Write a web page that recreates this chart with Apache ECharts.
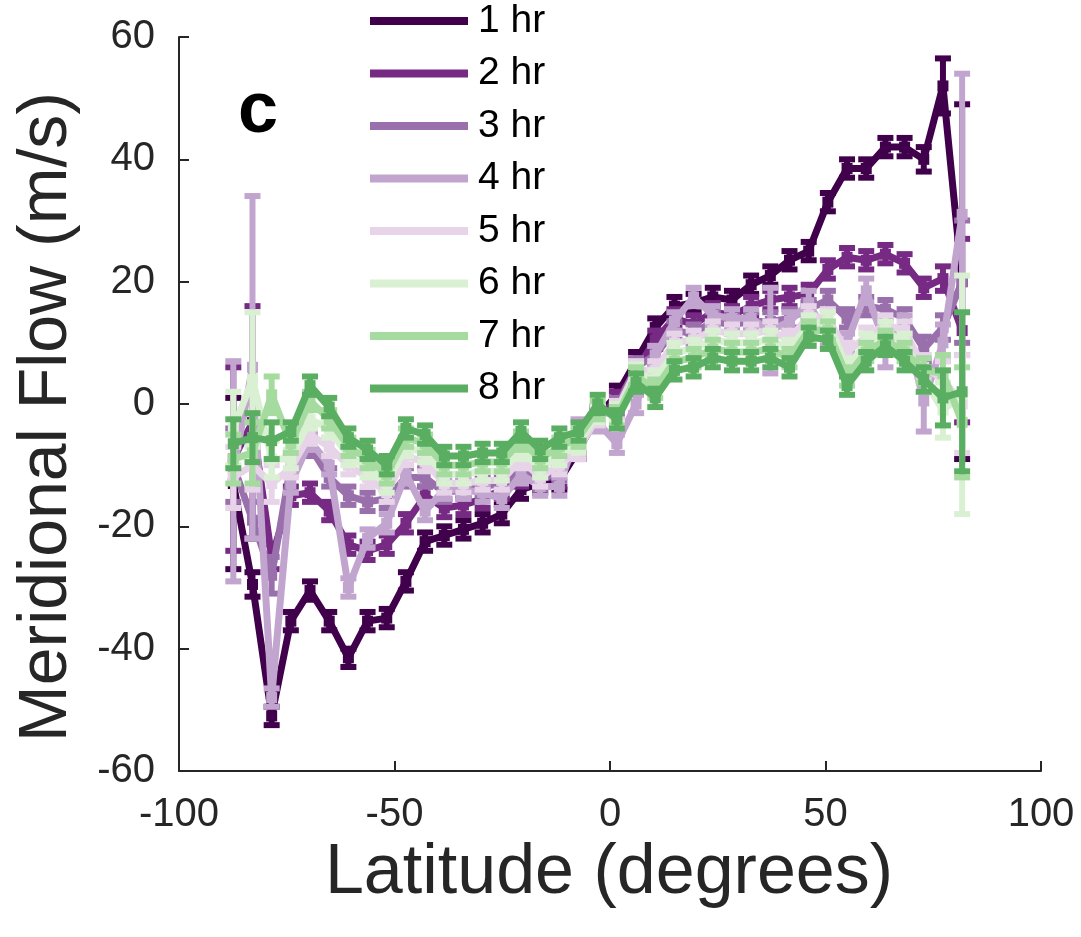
<!DOCTYPE html>
<html>
<head>
<meta charset="utf-8">
<script src="https://cdn.jsdelivr.net/npm/echarts@6/dist/echarts.min.js"></script>
<style>
  html, body { margin: 0; padding: 0; background: #fff; }
  #chart { width: 1081px; height: 937px; }
</style>
</head>
<body>
<div id="chart"></div>
<script>
// Latitude bin centres (degrees)
const lat = [
  -87.4, -82.95, -78.5, -74.05, -69.6, -65.15, -60.7, -56.25, -51.8, -47.35,
  -42.9, -38.45, -34, -29.55, -25.1, -20.65, -16.2, -11.75, -7.3, -2.85,
  1.6, 6.05, 10.5, 14.95, 19.4, 23.85, 28.3, 32.75, 37.2, 41.65,
  46.1, 50.55, 55, 59.45, 63.9, 68.35, 72.8, 77.25, 81.7
];

// Meridional flow (m/s) for each time lag, with error half-widths
const hr1 = [
  -13, -29.5, -51, -35.5, -30.5, -35.5, -41.5, -35.5, -35, -29,
  -22.5, -21.5, -20.5, -19.5, -18, -14, -13, -12.5, -7.5, -2,
  1.5, 7, 12.5, 16, 16.5, 17.5, 17, 19.5, 21, 23.5,
  25, 33, 38.5, 38.5, 42, 42, 40, 52, 20
];
const err1 = [
  14, 2, 1.5, 1.5, 1.5, 1.5, 1.5, 1.5, 1.5, 1.5,
  1.5, 1.5, 1.5, 1.5, 1.5, 1.5, 1.5, 1.5, 1.5, 1.5,
  1.5, 1.5, 1.5, 1.5, 1.5, 1.5, 1.5, 1.5, 1.5, 1.5,
  1.5, 1.5, 1.5, 1.5, 1.5, 1.5, 2, 4.5, 29
];
const hr2 = [
  -9, -3, -25, -15, -14.5, -17.5, -23, -24, -23, -19.5,
  -15, -17, -16.5, -15.5, -14, -12, -12, -12, -6.5, -2,
  0.5, 5.5, 10.5, 14, 13, 15, 14.5, 16, 17, 17.5,
  18, 22, 24, 23.5, 24.5, 23, 19, 20.5, 12
];
const err2 = [
  15, 19, 2, 1.5, 1.5, 1.5, 1.5, 1.5, 1.5, 1.5,
  1.5, 1.5, 1.5, 1.5, 1.5, 1.5, 1.5, 1.5, 1.5, 1.5,
  1.5, 1.5, 1.5, 1.5, 1.5, 1.5, 1.5, 1.5, 1.5, 1.5,
  1.5, 1.5, 1.5, 1.5, 1.5, 1.5, 1.5, 2, 15
];
const hr3 = [
  -10, -19, -28, -10, -7, -12, -15, -16, -15.5, -12,
  -12, -14.5, -14, -13.5, -13, -11, -12.5, -11, -7, -2,
  -0.5, 6, 8, 12, 11.5, 13.5, 13, 13.5, 13.5, 14,
  15.5, 17, 14, 16, 15.5, 14, 9, 12.5, 20
];
const err3 = [
  6, 3, 3, 1.5, 1.5, 1.5, 1.5, 1.5, 1.5, 1.5,
  1.5, 1.5, 1.5, 1.5, 1.5, 1.5, 1.5, 1.5, 1.5, 1.5,
  1.5, 1.5, 1.5, 1.5, 1.5, 1.5, 1.5, 1.5, 1.5, 1.5,
  1.5, 1.5, 1.5, 1.5, 1.5, 1.5, 2, 2, 10
];
const hr4 = [
  -11, 6, -48, -13, -6, -10, -30, -22, -19.5, -11.5,
  -17.5, -14, -14, -14.5, -15.5, -11.5, -13.5, -13.5, -4, -3,
  -6.5, 0, 8, 13.5, 17.5, 14.5, 14, 14, 12, 13.5,
  16.5, 11, 10, 18.5, 9.5, 13, 0.5, 10, 31
];
const err4 = [
  18, 28, 1.5, 1.5, 1.5, 1.5, 1.5, 1.5, 1.5, 1.5,
  1.5, 1.5, 1.5, 1.5, 1.5, 1.5, 1.5, 1.5, 1.5, 1.5,
  1.5, 1.5, 1.5, 1.5, 1.5, 1.5, 1.5, 1.5, 7, 1.5,
  2, 1.5, 1.5, 2, 3.5, 1.5, 5, 3, 23
];
const hr5 = [
  -12, -10, -13, -10.5, -5, -7, -10, -12, -14.5, -8.5,
  -9.5, -13, -13, -12.5, -12.5, -9, -12, -10, -7.5, -2,
  -1, 5.5, 5.5, 10, 10.5, 12, 11.5, 11.5, 12, 10.5,
  14.5, 14, 8.5, 11, 13, 12, 6, 4, 0
];
const err5 = [
  5, 4, 3, 1.5, 1.5, 1.5, 1.5, 1.5, 1.5, 1.5,
  1.5, 1.5, 1.5, 1.5, 1.5, 1.5, 1.5, 1.5, 1.5, 1.5,
  1.5, 1.5, 1.5, 1.5, 1.5, 1.5, 1.5, 1.5, 1.5, 1.5,
  1.5, 1.5, 1.5, 1.5, 1.5, 1.5, 2, 3, 8
];
const hr6 = [
  -4, 4, -9, -9, -2.5, -4, -8.5, -10.5, -13, -7,
  -8, -11.5, -11.5, -11, -11, -7.5, -10.5, -8.5, -6.5, -1.5,
  -1.5, 5, 4, 8.5, 9, 10.5, 10, 10, 10.5, 9,
  13, 13.5, 6, 10, 12, 10, 4, -1, 1.5
];
const err6 = [
  6, 11, 3, 1.5, 1.5, 1.5, 1.5, 1.5, 1.5, 1.5,
  1.5, 1.5, 1.5, 1.5, 1.5, 1.5, 1.5, 1.5, 1.5, 1.5,
  1.5, 1.5, 1.5, 1.5, 1.5, 1.5, 1.5, 1.5, 1.5, 1.5,
  1.5, 1.5, 1.5, 1.5, 1.5, 1.5, 2, 4.5, 19.5
];
const hr7 = [
  -9, -8, 1.5, -6.5, 0.5, -2.5, -7, -9, -11.5, -5.5,
  -6.5, -10, -10, -9.5, -9.5, -6, -9, -7, -5.5, -1,
  -2, 4.5, 2.5, 7, 7.5, 9, 8.5, 8.5, 9, 7.5,
  12, 12, 4.5, 8.5, 10.5, 8.5, 5.5, 5, -3
];
const err7 = [
  4, 5, 3, 1.5, 1.5, 1.5, 1.5, 1.5, 1.5, 1.5,
  1.5, 1.5, 1.5, 1.5, 1.5, 1.5, 1.5, 1.5, 1.5, 1.5,
  1.5, 1.5, 1.5, 1.5, 1.5, 1.5, 1.5, 1.5, 1.5, 1.5,
  1.5, 1.5, 1.5, 1.5, 1.5, 1.5, 2, 3, 9
];
const hr8 = [
  -6.5, -5.5, -6, -4.5, 3, -0.5, -5.5, -7.5, -10, -4,
  -5, -8.5, -8.5, -8, -8, -4.5, -7.5, -5.5, -4.5, 0,
  -2.5, 3.5, 1, 5.5, 6, 7.5, 7, 7, 7.5, 6,
  11, 10.5, 3, 7, 9.5, 7, 4, 1, 2
];
const err8 = [
  4, 4, 3, 1.5, 1.5, 1.5, 1.5, 1.5, 1.5, 1.5,
  1.5, 1.5, 1.5, 1.5, 1.5, 1.5, 1.5, 1.5, 1.5, 1.5,
  1.5, 1.5, 1.5, 1.5, 1.5, 1.5, 1.5, 1.5, 1.5, 1.5,
  1.5, 1.5, 1.5, 1.5, 1.5, 1.5, 2, 4.5, 13
];

const seriesNames = ['1 hr', '2 hr', '3 hr', '4 hr', '5 hr', '6 hr', '7 hr', '8 hr'];
const values = [hr1, hr2, hr3, hr4, hr5, hr6, hr7, hr8];
const errors = [err1, err2, err3, err4, err5, err6, err7, err8];
const colors = ['#40004b', '#762a83', '#9970ab', '#c2a5cf', '#e7d4e8', '#d9f0d3', '#a6dba0', '#5aae61'];

const FONT = 'Liberation Sans, Arial, Helvetica, sans-serif';
const AXIS_COLOR = '#262626';

// Vertical error bar with caps, drawn in data coordinates
function errorBarRenderer(color) {
  return function (params, api) {
    const x = api.value(0), y = api.value(1), e = api.value(2);
    const top = api.coord([x, y + e]);
    const bot = api.coord([x, y - e]);
    const hw = 8;
    const style = { stroke: color, lineWidth: 6, lineCap: 'butt' };
    return {
      type: 'group',
      children: [
        { type: 'line', shape: { x1: top[0], y1: top[1], x2: bot[0], y2: bot[1] }, style: style },
        { type: 'line', shape: { x1: top[0] - hw, y1: top[1], x2: top[0] + hw, y2: top[1] }, style: style },
        { type: 'line', shape: { x1: bot[0] - hw, y1: bot[1], x2: bot[0] + hw, y2: bot[1] }, style: style }
      ]
    };
  };
}

const series = [];
seriesNames.forEach(function (name, k) {
  const vals = values[k], errs = errors[k];
  series.push({
    name: name + ' error',
    type: 'custom',
    renderItem: errorBarRenderer(colors[k]),
    data: lat.map(function (x, i) { return [x, vals[i], errs[i]]; }),
    z: 10 + 2 * k,
    silent: true
  });
  series.push({
    name: name,
    type: 'line',
    data: lat.map(function (x, i) { return [x, vals[i]]; }),
    lineStyle: { color: colors[k], width: 7 },
    itemStyle: { color: colors[k] },
    symbol: 'rect',
    symbolSize: 11,
    showSymbol: true,
    z: 11 + 2 * k
  });
});

const chart = echarts.init(document.getElementById('chart'), null, { renderer: 'canvas' });
chart.setOption({
  animation: false,
  backgroundColor: '#ffffff',
  grid: { left: 179, right: 40, top: 37, bottom: 166, containLabel: false },
  legend: {
    data: seriesNames,
    orient: 'vertical',
    left: 370,
    top: -1,
    padding: 0,
    itemWidth: 98,
    itemHeight: 8,
    itemGap: 8.5,
    icon: 'rect',
    textStyle: { fontFamily: FONT, fontSize: 39, color: '#000', lineHeight: 44, padding: [0, 0, 0, 5] },
    selectedMode: false
  },
  xAxis: {
    type: 'value',
    min: -100,
    max: 100,
    interval: 50,
    axisLine: { show: true, onZero: false, lineStyle: { color: AXIS_COLOR, width: 2 } },
    axisTick: { show: true, inside: true, length: 10, lineStyle: { color: AXIS_COLOR, width: 2 } },
    axisLabel: { fontFamily: FONT, fontSize: 40, color: AXIS_COLOR, margin: 24 },
    splitLine: { show: false }
  },
  yAxis: {
    type: 'value',
    min: -60,
    max: 60,
    interval: 20,
    axisLine: { show: true, onZero: false, lineStyle: { color: AXIS_COLOR, width: 2 } },
    axisTick: { show: true, inside: true, length: 10, lineStyle: { color: AXIS_COLOR, width: 2 } },
    axisLabel: { fontFamily: FONT, fontSize: 40, color: AXIS_COLOR, margin: 24 },
    splitLine: { show: false }
  },
  graphic: [
    {
      type: 'text',
      x: 609,
      y: 874,
      style: {
        text: 'Latitude (degrees)',
        fontFamily: FONT, fontSize: 70, fill: AXIS_COLOR,
        textAlign: 'center', textVerticalAlign: 'middle'
      },
      z: 100
    },
    {
      type: 'text',
      x: 47,
      y: 417,
      rotation: Math.PI / 2,
      style: {
        text: 'Meridional Flow (m/s)',
        fontFamily: FONT, fontSize: 68, fill: AXIS_COLOR,
        textAlign: 'center', textVerticalAlign: 'middle'
      },
      z: 100
    },
    {
      type: 'text',
      x: 258,
      y: 112,
      style: {
        text: 'c',
        fontFamily: FONT, fontSize: 72, fontWeight: 'bold', fill: '#000',
        textAlign: 'center', textVerticalAlign: 'middle'
      },
      z: 100
    }
  ],
  series: series
});
</script>
</body>
</html>
